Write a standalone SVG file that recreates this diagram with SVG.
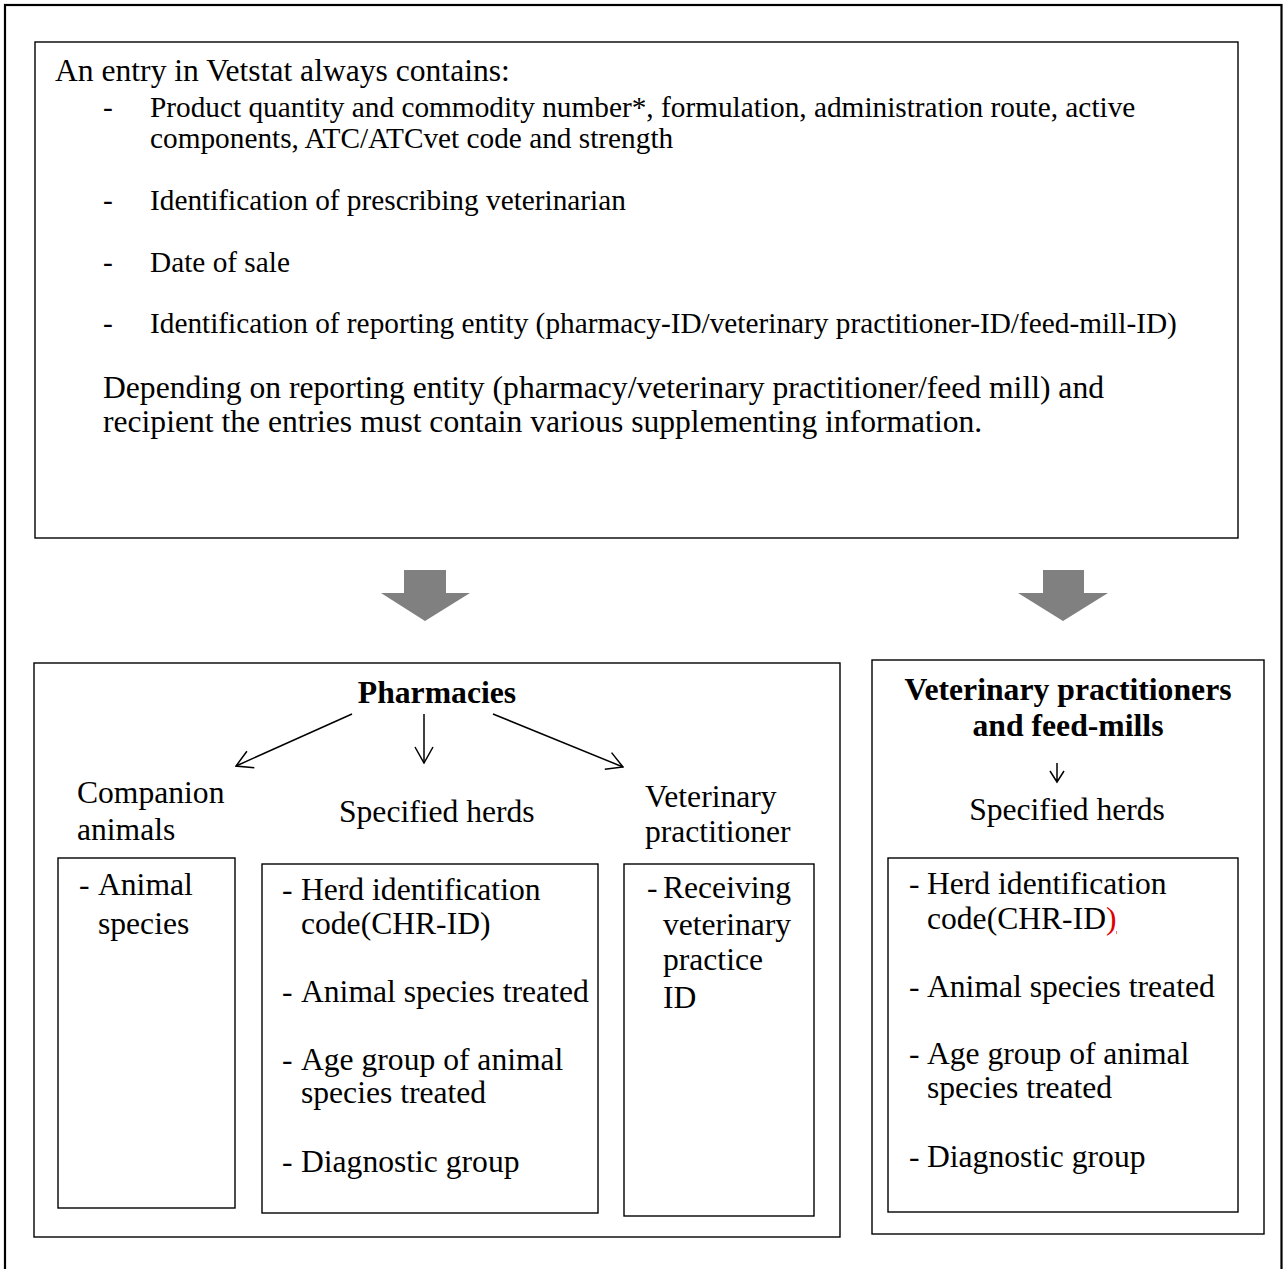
<svg xmlns="http://www.w3.org/2000/svg" width="1283" height="1269" viewBox="0 0 1283 1269">
<defs>
<style>
.box{fill:#fff;stroke:#000;stroke-width:1.4}
.t{font-family:"Liberation Serif","Times New Roman",serif;fill:#000}
.top{font-size:29.3px}
.low{font-size:31.6px}
.b{font-weight:bold;font-size:31.7px}
.mid{text-anchor:middle}
.conn{fill:none;stroke:#000;stroke-width:1.5}
.block{fill:#808080;stroke:none}
.err{fill:#e00000;text-decoration:underline}
</style>
<marker id="open" viewBox="0 0 18 20" refX="17" refY="10" markerWidth="18" markerHeight="20" markerUnits="userSpaceOnUse" orient="auto">
<path d="M1,1 L17,10 L1,19" fill="none" stroke="#000" stroke-width="1.5"/>
</marker>
</defs>
<rect width="1283" height="1269" fill="#fff"/>
<rect id="frame" x="5" y="5" width="1276.5" height="1300" fill="none" stroke="#000" stroke-width="2.2"/>

<g id="entry">
<rect class="box" x="35" y="42" width="1203" height="496"/>
<text class="t low" x="55" y="81">An entry in Vetstat always contains:</text>
<text class="t top" x="103" y="117">-</text>
<text class="t top" x="150" y="117">Product quantity and commodity number*, formulation, administration route, active</text>
<text class="t top" x="150" y="148">components, ATC/ATCvet code and strength</text>
<text class="t top" x="103" y="210">-</text>
<text class="t top" x="150" y="210">Identification of prescribing veterinarian</text>
<text class="t top" x="103" y="272">-</text>
<text class="t top" x="150" y="272">Date of sale</text>
<text class="t top" x="103" y="333">-</text>
<text class="t top" x="150" y="333">Identification of reporting entity (pharmacy-ID/veterinary practitioner-ID/feed-mill-ID)</text>
<text class="t low" x="103" y="398">Depending on reporting entity (pharmacy/veterinary practitioner/feed mill) and</text>
<text class="t low" x="103" y="432">recipient the entries must contain various supplementing information.</text>
</g>

<g id="pharmacies">
<rect class="box" x="34" y="663" width="806" height="574"/>
<text class="t b mid" x="437" y="703">Pharmacies</text>
</g>

<g id="companion">
<text class="t low" x="77" y="803">Companion</text>
<text class="t low" x="77" y="840">animals</text>
<rect class="box" x="58" y="858" width="177" height="350"/>
<text class="t low" x="79" y="895">-</text>
<text class="t low" x="98" y="895">Animal</text>
<text class="t low" x="98" y="934">species</text>
</g>

<g id="herds-pharmacy">
<text class="t low" x="339" y="822">Specified herds</text>
<rect class="box" x="262" y="864" width="336" height="349"/>
<text class="t low" x="282" y="900">-</text>
<text class="t low" x="301" y="900">Herd identification</text>
<text class="t low" x="301" y="934">code(CHR-ID)</text>
<text class="t low" x="282" y="1002">-</text>
<text class="t low" x="301" y="1002">Animal species treated</text>
<text class="t low" x="282" y="1070">-</text>
<text class="t low" x="301" y="1070">Age group of animal</text>
<text class="t low" x="301" y="1103">species treated</text>
<text class="t low" x="282" y="1172">-</text>
<text class="t low" x="301" y="1172">Diagnostic group</text>
</g>

<g id="vet-practitioner">
<text class="t low" x="645" y="807">Veterinary</text>
<text class="t low" x="645" y="842">practitioner</text>
<rect class="box" x="624" y="864" width="190" height="352"/>
<text class="t low" x="647" y="898">-</text>
<text class="t low" x="663" y="898">Receiving</text>
<text class="t low" x="663" y="935">veterinary</text>
<text class="t low" x="663" y="970">practice</text>
<text class="t low" x="663" y="1008">ID</text>
</g>

<g id="vets-feedmills">
<rect class="box" x="872" y="660" width="392" height="574"/>
<text class="t b mid" x="1068" y="700">Veterinary practitioners</text>
<text class="t b mid" x="1068" y="736">and feed-mills</text>
<text class="t low mid" x="1067" y="820">Specified herds</text>
<rect class="box" x="888" y="858" width="350" height="354"/>
<text class="t low" x="909" y="894">-</text>
<text class="t low" x="927" y="894">Herd identification</text>
<text class="t low" x="927" y="929">code(CHR-ID<tspan class="err">)</tspan></text>
<text class="t low" x="909" y="997">-</text>
<text class="t low" x="927" y="997">Animal species treated</text>
<text class="t low" x="909" y="1064">-</text>
<text class="t low" x="927" y="1064">Age group of animal</text>
<text class="t low" x="927" y="1098">species treated</text>
<text class="t low" x="909" y="1167">-</text>
<text class="t low" x="927" y="1167">Diagnostic group</text>
</g>

<g id="connectors">
<polygon class="block" points="404,570 446,570 446,593 470,593 425,621 381,593 404,593"/>
<polygon class="block" points="1043,570 1084,570 1084,593 1108,593 1063,621 1018,593 1043,593"/>
<line class="conn" x1="352" y1="714" x2="236" y2="766" marker-end="url(#open)"/>
<line class="conn" x1="424" y1="714" x2="424" y2="763" marker-end="url(#open)"/>
<line class="conn" x1="493" y1="714" x2="623" y2="767" marker-end="url(#open)"/>
<path class="conn" d="M1057,763 L1057,782 M1050,771 L1057,782 L1064,771" stroke-width="1.3"/>
</g>
</svg>
